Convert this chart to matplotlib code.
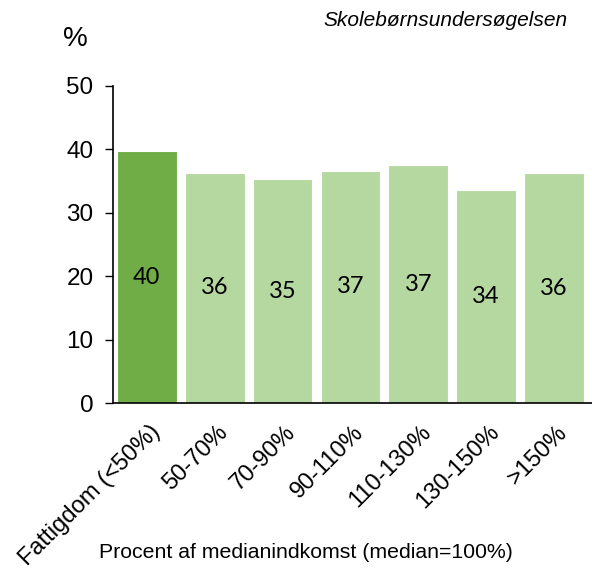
import matplotlib.pyplot as plt
import matplotlib.transforms as mtransforms

categories = ['Fattigdom (<50%)', '50-70%', '70-90%', '90-110%', '110-130%', '130-150%', '>150%']
values = [39.7, 36.3, 35.3, 36.6, 37.5, 33.6, 36.2]
labels = ['40', '36', '35', '37', '37', '34', '36']

dark_green = '#70ad47'
light_green = '#b5d7a0'
colors = [dark_green] + [light_green] * 6

plt.rcParams['font.family'] = ['Liberation Sans', 'DejaVu Sans']

fig = plt.figure(figsize=(5.92, 5.68), dpi=100)
ax = fig.add_axes([113 / 592, 1 - 403 / 568, 479 / 592, 317 / 568])

x = range(len(categories))
bars = ax.bar(x, values, width=0.88, color=colors, edgecolor='white', linewidth=0.8)

for b, lab in zip(bars, labels):
    ax.text(b.get_x() + b.get_width() / 2, b.get_height() / 2, lab,
            ha='center', va='center', fontsize=17, family='Lato', color='black')

ax.set_xlim(-0.5, 6.56)
ax.set_ylim(0, 50)
ax.set_yticks([0, 10, 20, 30, 40, 50])
ax.tick_params(axis='y', labelsize=17.5, length=6, width=1, pad=8, direction='out')
ax.tick_params(axis='x', length=0, labelsize=17, pad=0)
ax.set_xticks(list(x))
ax.set_xticklabels(categories, rotation=45, ha='right', rotation_mode='anchor', va='top')

# move the rotated labels so their ends sit just right of the bar centre
offset = mtransforms.ScaledTranslation(2 / 100, -18 / 100, fig.dpi_scale_trans)
for t in ax.get_xticklabels():
    t.set_transform(t.get_transform() + offset)

for side in ['top', 'right']:
    ax.spines[side].set_visible(False)
ax.spines['left'].set_linewidth(1.2)
ax.spines['bottom'].set_linewidth(1.2)

fig.text(75.5 / 592, 1 - 39 / 568, '%', fontsize=20, va='center', ha='center')
fig.text(568 / 592, 1 - 21 / 568, 'Skolebørnsundersøgelsen', fontsize=15,
         style='italic', ha='right', va='center')
fig.text(306 / 592, 1 - 553 / 568, 'Procent af medianindkomst (median=100%)',
         fontsize=15.3, ha='center', va='center')

fig.savefig('out.png', dpi=100)
